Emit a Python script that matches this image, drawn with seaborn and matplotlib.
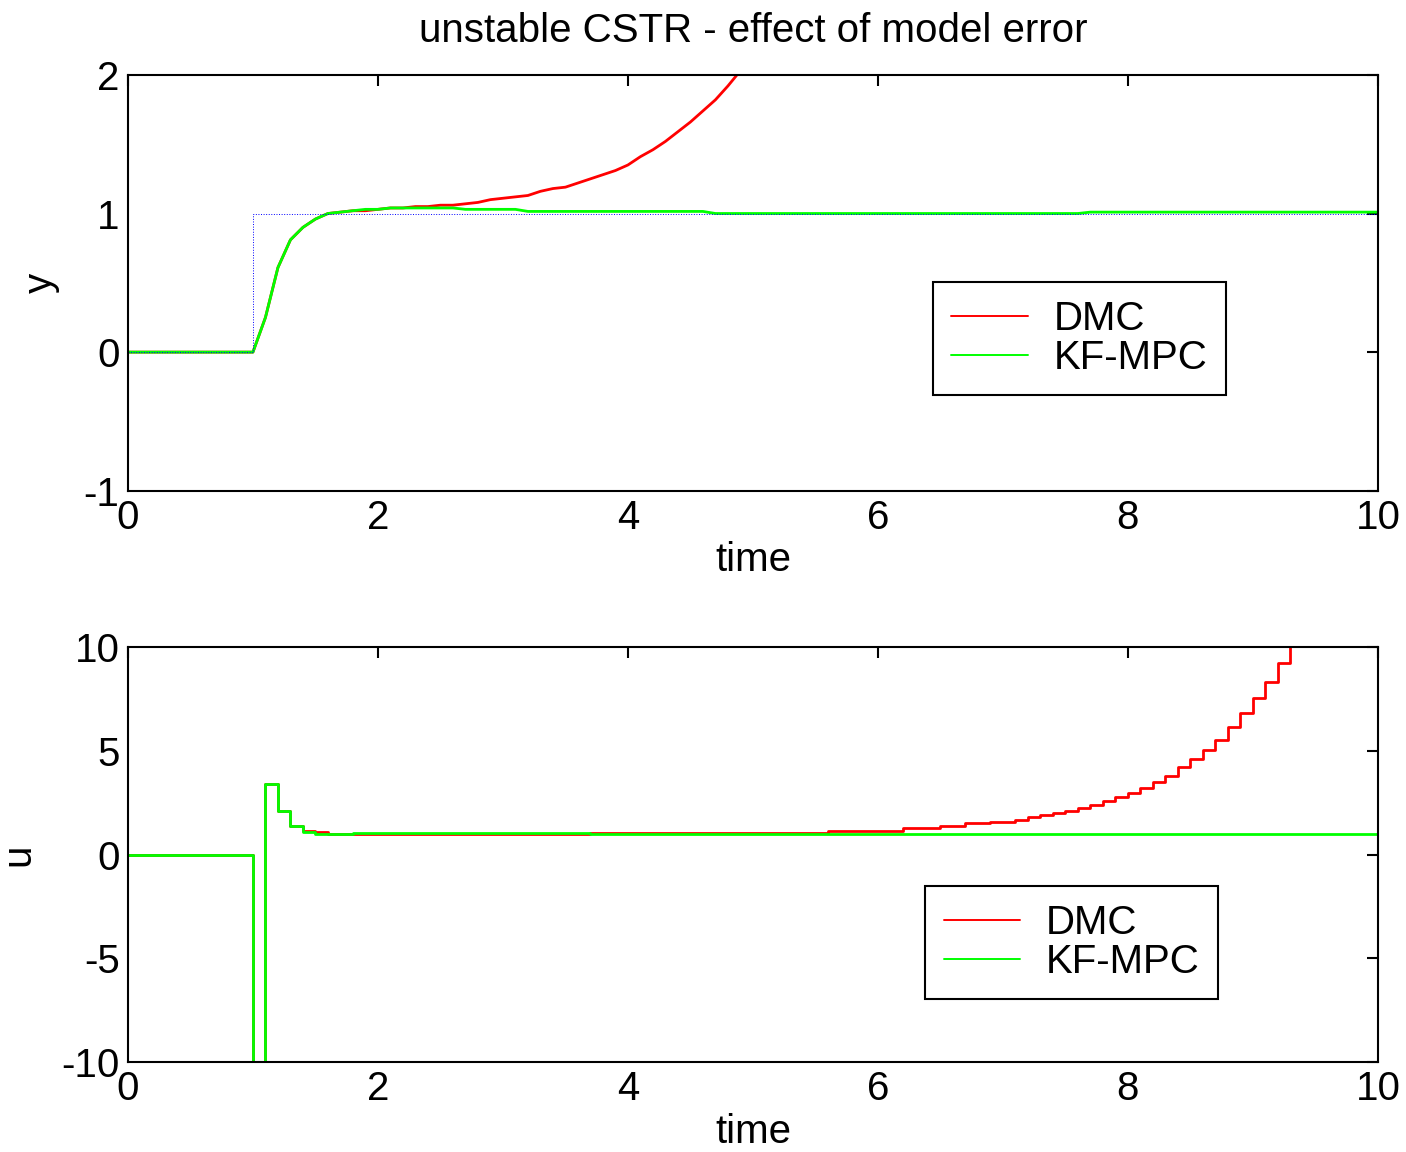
import numpy as np
import pandas as pd
import matplotlib
matplotlib.use("Agg")
import matplotlib.pyplot as plt
import seaborn as sns

# top plot: output y
t_y_dmc = [0, 1.0, 1.1, 1.2, 1.3, 1.4, 1.5, 1.6, 1.7, 1.8, 1.9, 2.0, 2.1, 2.2, 2.3, 2.4,
           2.5, 2.6, 2.7, 2.8, 2.9, 3.0, 3.1, 3.2, 3.3, 3.4, 3.5, 3.6, 3.7, 3.8, 3.9,
           4.0, 4.1, 4.2, 4.3, 4.4, 4.5, 4.6, 4.7, 4.8, 4.9, 5.0]
y_dmc = [0, 0, 0.25, 0.61, 0.81, 0.90, 0.96, 1.00, 1.01, 1.02, 1.02, 1.03, 1.04, 1.04, 1.05, 1.05,
         1.06, 1.06, 1.07, 1.08, 1.10, 1.11, 1.12, 1.13, 1.16, 1.18, 1.19, 1.22, 1.25, 1.28, 1.31,
         1.35, 1.41, 1.46, 1.52, 1.59, 1.66, 1.74, 1.82, 1.92, 2.03, 2.15]

t_y_kf = [0, 1.0, 1.1, 1.2, 1.3, 1.4, 1.5, 1.6, 1.7, 1.8, 1.9, 2.0, 2.1, 2.6, 2.7, 3.1, 3.2,
          4.6, 4.7, 7.6, 7.7, 10]
y_kf = [0, 0, 0.25, 0.61, 0.81, 0.90, 0.96, 1.00, 1.01, 1.02, 1.03, 1.03, 1.04, 1.04, 1.03, 1.03, 1.015,
        1.015, 1.0, 1.0, 1.01, 1.01]

t_ref = [0, 1.0, 10]
y_ref = [0, 1, 1]

# bottom plot: input u (zero-order hold)
t_u_dmc = [0, 1.0, 1.1, 1.2, 1.3, 1.4, 1.5, 1.6, 3.7, 5.6, 6.2, 6.5, 6.7, 6.9,
           7.1, 7.2, 7.3, 7.4, 7.5, 7.6, 7.7, 7.8, 7.9, 8.0, 8.1, 8.2, 8.3, 8.4,
           8.5, 8.6, 8.7, 8.8, 8.9, 9.0, 9.1, 9.2, 9.3]
u_dmc = [0, -15, 3.4, 2.1, 1.4, 1.16, 1.1, 1.0, 1.07, 1.17, 1.27, 1.40, 1.53, 1.60,
         1.70, 1.80, 1.91, 2.01, 2.09, 2.28, 2.41, 2.59, 2.81, 2.99, 3.2, 3.49, 3.81, 4.21,
         4.63, 5.04, 5.53, 6.14, 6.86, 7.55, 8.35, 9.27, 10.3]

t_u_kf = [0, 1.0, 1.1, 1.2, 1.3, 1.4, 1.5, 1.8, 3.7, 10]
u_kf = [0, -15, 3.4, 2.1, 1.4, 1.1, 1.0, 1.05, 1.0, 1.0]

sns.set_style("white")
plt.rcParams['font.family'] = ['Liberation Sans', 'DejaVu Sans']
plt.rcParams['font.size'] = 29
plt.rcParams['axes.unicode_minus'] = False
for k in ('text.color', 'axes.labelcolor', 'xtick.color', 'ytick.color'):
    plt.rcParams[k] = 'black'

fig = plt.figure(figsize=(14.06, 11.52), dpi=100)
ax1 = fig.add_axes([0.091, 0.574, 0.889, 0.361])
ax2 = fig.add_axes([0.091, 0.078, 0.889, 0.360])

red = '#ff0000'
green = '#00ff00'
lw = 2.0

sns.lineplot(x=t_y_dmc, y=y_dmc, ax=ax1, color=red, linewidth=lw, estimator=None, label='DMC')
sns.lineplot(x=t_y_kf, y=y_kf, ax=ax1, color=green, linewidth=lw, estimator=None, label='KF-MPC')
sns.lineplot(x=t_ref, y=y_ref, ax=ax1, color='blue', linewidth=0.7, linestyle=':',
             drawstyle='steps-post', estimator=None, legend=False)

sns.lineplot(x=t_u_dmc, y=u_dmc, ax=ax2, color=red, linewidth=lw, drawstyle='steps-post',
             estimator=None, label='DMC')
sns.lineplot(x=t_u_kf, y=u_kf, ax=ax2, color=green, linewidth=lw, drawstyle='steps-post',
             estimator=None, label='KF-MPC')

ax1.set_xlim(0, 10)
ax1.set_ylim(-1, 2)
ax1.set_yticks([-1, 0, 1, 2])
ax1.set_ylabel('y', labelpad=17)
ax1.set_title('unstable CSTR - effect of model error', fontsize=29, pad=24)

ax2.set_xlim(0, 10)
ax2.set_ylim(-10, 10)
ax2.set_yticks([-10, -5, 0, 5, 10])
ax2.set_ylabel('u', labelpad=17)

for ax in (ax1, ax2):
    ax.set_xticks([0, 2, 4, 6, 8, 10])
    ax.set_xlabel('time', labelpad=3)
    ax.tick_params(direction='in', length=8, width=1.5, top=True, right=True,
                   labelsize=29, pad=6, color='black')
    for s in ax.spines.values():
        s.set_color('black')
        s.set_linewidth(1.5)

leg_kw = dict(fontsize=29, handlelength=1.9, handletextpad=0.65, borderpad=0.45,
              labelspacing=0.02, fancybox=False, framealpha=1, borderaxespad=0)
leg1 = ax1.legend(loc='upper left', bbox_to_anchor=(0.644, 0.502), **leg_kw)
leg2 = ax2.legend(loc='upper left', bbox_to_anchor=(0.638, 0.424), **leg_kw)
for leg in (leg1, leg2):
    fr = leg.get_frame()
    fr.set_edgecolor('black')
    fr.set_linewidth(1.5)
    for ln in leg.get_lines():
        ln.set_linewidth(1.4)

fig.savefig('out.png', dpi=100)
